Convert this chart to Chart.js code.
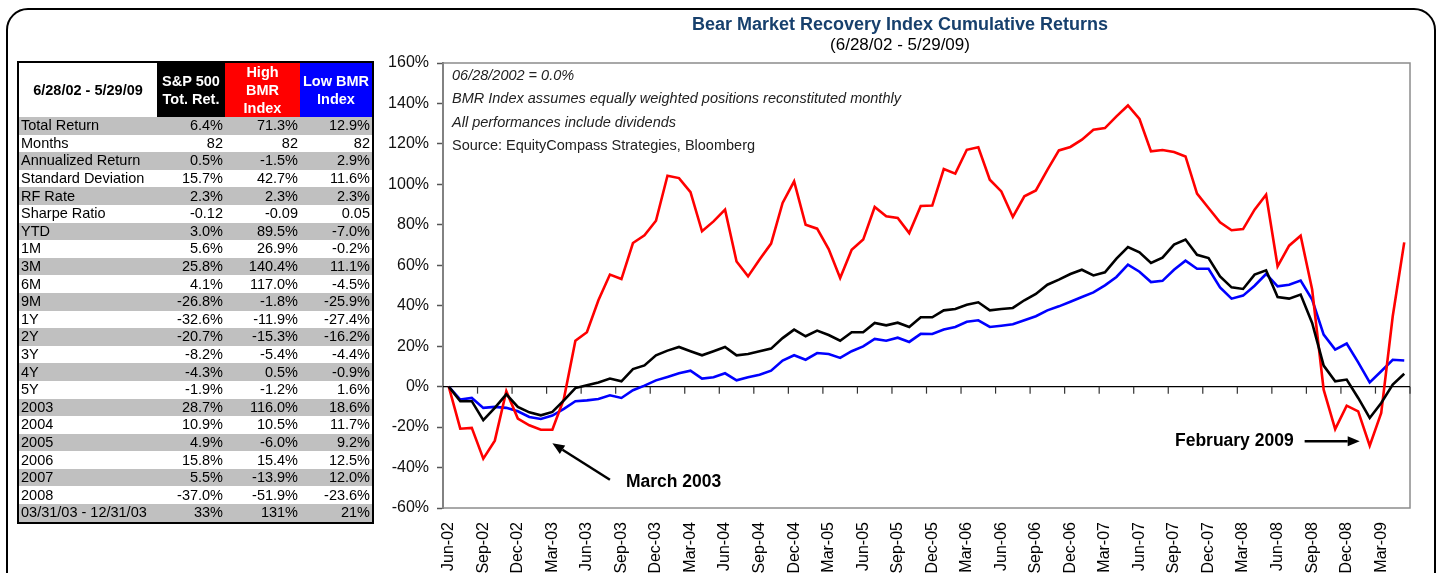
<!DOCTYPE html>
<html>
<head>
<meta charset="utf-8">
<script src="https://cdn.jsdelivr.net/npm/chart.js@4.4.1/dist/chart.umd.min.js"></script>
<style>
  html, body { margin: 0; padding: 0; background: #fff; }
  body { width: 1440px; height: 573px; position: relative; overflow: hidden; font-family: 'Liberation Sans', Arial, sans-serif; }
  #frame { position: absolute; left: 6px; top: 8px; width: 1426px; height: 620px; border: 2px solid #000; border-radius: 22px; }
  #chart { position: absolute; left: 0; top: 0; }
  .title { position: absolute; left: 380px; width: 1040px; text-align: center; }
  #t1 { top: 13px; font-size: 18px; font-weight: bold; color: #17406d; line-height: 22px; }
  #t2 { top: 35px; font-size: 17px; color: #000; line-height: 20px; }
  #stats { position: absolute; left: 17px; top: 61px; border-collapse: collapse; table-layout: fixed; border: 2px solid #000; font-size: 14.5px; }
  #stats td { padding: 0 2px; height: 17.6px; line-height: 17px; white-space: nowrap; text-align: right; }
  #stats td.lbl { text-align: left; }
  #stats tr.g td { background: #c0c0c0; }
  #stats th { height: 54px; font-size: 14.5px; font-weight: bold; line-height: 18px; padding: 0; text-align: center; }
</style>
</head>
<body>
<div id="frame"></div>
<canvas id="chart" width="1440" height="573"></canvas>
<div class="title" id="t1">Bear Market Recovery Index Cumulative Returns</div>
<div class="title" id="t2">(6/28/02 - 5/29/09)</div>
<table id="stats">
  <colgroup><col style="width:139px"><col style="width:68px"><col style="width:75px"><col style="width:73px"></colgroup>
  <thead>
    <tr>
      <th style="background:#fff;color:#000">6/28/02 - 5/29/09</th>
      <th style="background:#000;color:#fff">S&amp;P 500<br>Tot. Ret.</th>
      <th style="background:#ff0000;color:#fff">High<br>BMR<br>Index</th>
      <th style="background:#0000ff;color:#fff">Low BMR<br>Index</th>
    </tr>
  </thead>
  <tbody id="rows"></tbody>
</table>
<script>
// table figures
const statLabels = ['Total Return', 'Months', 'Annualized Return', 'Standard Deviation', 'RF Rate', 'Sharpe Ratio', 'YTD', '1M', '3M', '6M', '9M', '1Y', '2Y', '3Y', '4Y', '5Y', '2003', '2004', '2005', '2006', '2007', '2008', '03/31/03 - 12/31/03'];
const statSP500 = ['6.4%', '82', '0.5%', '15.7%', '2.3%', '-0.12', '3.0%', '5.6%', '25.8%', '4.1%', '-26.8%', '-32.6%', '-20.7%', '-8.2%', '-4.3%', '-1.9%', '28.7%', '10.9%', '4.9%', '15.8%', '5.5%', '-37.0%', '33%'];
const statHigh = ['71.3%', '82', '-1.5%', '42.7%', '2.3%', '-0.09', '89.5%', '26.9%', '140.4%', '117.0%', '-1.8%', '-11.9%', '-15.3%', '-5.4%', '0.5%', '-1.2%', '116.0%', '10.5%', '-6.0%', '15.4%', '-13.9%', '-51.9%', '131%'];
const statLow = ['12.9%', '82', '2.9%', '11.6%', '2.3%', '0.05', '-7.0%', '-0.2%', '11.1%', '-4.5%', '-25.9%', '-27.4%', '-16.2%', '-4.4%', '-0.9%', '1.6%', '18.6%', '11.7%', '9.2%', '12.5%', '12.0%', '-23.6%', '21%'];

// chart data, cumulative return in %
const months = ['Jun-02','Jul-02','Aug-02','Sep-02','Oct-02','Nov-02','Dec-02',
  'Jan-03','Feb-03','Mar-03','Apr-03','May-03','Jun-03','Jul-03','Aug-03','Sep-03','Oct-03','Nov-03','Dec-03',
  'Jan-04','Feb-04','Mar-04','Apr-04','May-04','Jun-04','Jul-04','Aug-04','Sep-04','Oct-04','Nov-04','Dec-04',
  'Jan-05','Feb-05','Mar-05','Apr-05','May-05','Jun-05','Jul-05','Aug-05','Sep-05','Oct-05','Nov-05','Dec-05',
  'Jan-06','Feb-06','Mar-06','Apr-06','May-06','Jun-06','Jul-06','Aug-06','Sep-06','Oct-06','Nov-06','Dec-06',
  'Jan-07','Feb-07','Mar-07','Apr-07','May-07','Jun-07','Jul-07','Aug-07','Sep-07','Oct-07','Nov-07','Dec-07',
  'Jan-08','Feb-08','Mar-08','Apr-08','May-08','Jun-08','Jul-08','Aug-08','Sep-08','Oct-08','Nov-08','Dec-08',
  'Jan-09','Feb-09','Mar-09','Apr-09','May-09'];
const sp500 = [0, -7.2, -7.2, -16.6, -10.5, -3.8, -10, -12.7, -14.2, -12.5,
  -6.8, -0.7, 0.7, 2.1, 4, 2.6, 8.7, 10.5, 15.5, 17.8,
  19.6, 17.5, 15.5, 17.5, 19.6, 15.5, 16.1, 17.5, 18.8, 24,
  28.2, 24.9, 27.7, 25.5, 22.7, 26.9, 26.9, 31.5, 30.3, 31.6,
  29.5, 34.3, 34.3, 37.7, 38.4, 40.5, 41.7, 37.7, 38.4, 38.9,
  42.7, 45.8, 50.4, 52.9, 55.7, 57.8, 55, 56.5, 63.3, 69,
  66.4, 61.1, 63.8, 70.2, 72.7, 65.2, 63.6, 54.5, 49.1, 48.3,
  55.4, 57.5, 44.3, 43.5, 45.5, 31.5, 10.4, 2.6, 3.5, -5.6,
  -15.5, -8.1, 1, 6.4];
const highBMR = [0, -20.8, -20.4, -35.6, -26.7, -2.3, -15.8, -19.1, -21.3, -21.3,
  -6, 22.7, 26.9, 42.7, 55.4, 53.2, 71, 74.8, 82, 104.3,
  103.1, 96.2, 76.8, 81.7, 87.5, 61.9, 54.5, 62.8, 70.7, 90.8,
  101.5, 80, 78.1, 68, 53.7, 67.7, 72.7, 88.8, 84.2, 83.4,
  75.9, 89.3, 89.5, 107.6, 105.3, 117.1, 118.3, 102.3, 96.5, 83.9,
  94.1, 97, 107.2, 116.8, 118.5, 122.1, 127, 127.8, 133.6, 139,
  132.3, 116.3, 117, 116, 113.8, 95.4, 88.3, 81.2, 77.3, 77.9,
  87.5, 94.9, 59.5, 69.7, 74.6, 48, -1.5, -21, -9.4, -12.2,
  -29.2, -13, 34.8, 71.3];
const lowBMR = [0, -6.4, -5.6, -10.5, -10, -10.5, -12.2, -15, -16, -14.3,
  -11, -7.2, -6.8, -6.1, -4.3, -5.6, -1.8, 0.5, 3.1, 4.8,
  6.6, 7.9, 4, 4.6, 6.6, 3.1, 4.6, 5.9, 7.9, 12.9,
  15.5, 13.3, 16.6, 16.1, 14.2, 17.5, 19.9, 23.6, 22.7, 24.2,
  22.1, 26.1, 26, 28.2, 29.5, 32.1, 32.8, 29.5, 30.1, 30.8,
  32.8, 34.8, 37.7, 39.7, 42, 44.3, 46.6, 50.1, 54.2, 60.3,
  56.8, 51.7, 52.3, 57.8, 62.3, 58.3, 58.3, 49.1, 43.5, 45,
  49.9, 55.7, 49.6, 50.4, 52.4, 43, 25.7, 18.3, 21.3, 12,
  2.1, 7.6, 13.3, 12.9];

const notes = ['06/28/2002 = 0.0%', 'BMR Index assumes equally weighted positions reconstituted monthly', 'All performances include dividends'];
const source = 'Source: EquityCompass Strategies, Bloomberg';

const FONT = "'Liberation Sans', Arial, sans-serif";

// fill the stats table
const tbody = document.getElementById('rows');
statLabels.forEach((lbl, i) => {
  const tr = document.createElement('tr');
  if (i % 2 === 0) tr.className = 'g';
  tr.innerHTML = '<td class="lbl">' + lbl + '</td><td>' + statSP500[i] + '</td><td>' + statHigh[i] + '</td><td>' + statLow[i] + '</td>';
  tbody.appendChild(tr);
});

function arrow(ctx, x1, y1, x2, y2) {
  const ang = Math.atan2(y2 - y1, x2 - x1);
  const len = 12, w = 5;
  ctx.beginPath();
  ctx.moveTo(x1, y1);
  ctx.lineTo(x2 - Math.cos(ang) * len, y2 - Math.sin(ang) * len);
  ctx.stroke();
  ctx.beginPath();
  ctx.moveTo(x2, y2);
  ctx.lineTo(x2 - Math.cos(ang) * len - Math.sin(ang) * w, y2 - Math.sin(ang) * len + Math.cos(ang) * w);
  ctx.lineTo(x2 - Math.cos(ang) * len + Math.sin(ang) * w, y2 - Math.sin(ang) * len - Math.cos(ang) * w);
  ctx.closePath();
  ctx.fill();
}

// frame, zero line with its tick marks
const axisPlugin = {
  id: 'axisPlugin',
  beforeDatasetsDraw(chart) {
    const {ctx, chartArea: a, scales: {x, y}} = chart;
    ctx.save();
    ctx.strokeStyle = '#8c8c8c';
    ctx.lineWidth = 1.5;
    ctx.strokeRect(a.left, a.top, a.right - a.left, a.bottom - a.top);

    const y0 = y.getPixelForValue(0);
    const half = (x.getPixelForValue(1) - x.getPixelForValue(0)) / 2;
    ctx.strokeStyle = '#000';
    ctx.lineWidth = 1.2;
    ctx.beginPath();
    ctx.moveTo(a.left, y0);
    ctx.lineTo(a.right, y0);
    ctx.stroke();
    ctx.strokeStyle = '#333';
    for (let i = 3; i <= months.length; i += 3) {
      const px = x.getPixelForValue(i - 1) + half;
      ctx.beginPath();
      ctx.moveTo(px, y0);
      ctx.lineTo(px, y0 + 7);
      ctx.stroke();
    }
    // notes
    ctx.fillStyle = '#222';
    ctx.textBaseline = 'middle';
    ctx.textAlign = 'left';
    ctx.font = 'italic 14.5px ' + FONT;
    notes.forEach((t, i) => ctx.fillText(t, a.left + 9, a.top + 13 + i * 23.3));
    ctx.font = '14.5px ' + FONT;
    ctx.fillText(source, a.left + 9, a.top + 13 + 3 * 23.3);
    ctx.restore();
  },
  afterDatasetsDraw(chart) {
    const {ctx, scales: {x, y}} = chart;
    ctx.save();
    ctx.strokeStyle = '#000';
    ctx.fillStyle = '#000';
    ctx.lineWidth = 2.5;
    ctx.font = 'bold 17.5px ' + FONT;
    ctx.textBaseline = 'middle';

    // March 2003
    const mx = x.getPixelForValue(14), my = y.getPixelForValue(-46);
    arrow(ctx, mx, my, x.getPixelForValue(9), y.getPixelForValue(-28));
    ctx.textAlign = 'left';
    ctx.fillText('March 2003', mx + 16, y.getPixelForValue(-47));

    // February 2009
    const fx = x.getPixelForValue(74), fy = y.getPixelForValue(-27);
    arrow(ctx, fx + 4, fy, x.getPixelForValue(80) - 10, fy);
    ctx.textAlign = 'right';
    ctx.fillText('February 2009', fx - 7, fy);
    ctx.restore();
  }
};

const ctx = document.getElementById('chart');
new Chart(ctx, {
  type: 'line',
  data: {
    labels: months,
    datasets: [
      { label: 'S&P 500 Tot. Ret.', data: sp500, borderColor: '#000000' },
      { label: 'High BMR Index', data: highBMR, borderColor: '#ff0000' },
      { label: 'Low BMR Index', data: lowBMR, borderColor: '#0000ff' }
    ]
  },
  options: {
    responsive: false,
    animation: false,
    layout: { padding: { left: 380, top: 63, right: 30, bottom: 0 } },
    elements: {
      line: { borderWidth: 2.6, tension: 0, fill: false },
      point: { radius: 0, hoverRadius: 0 }
    },
    plugins: {
      legend: { display: false },
      tooltip: { enabled: false }
    },
    scales: {
      x: {
        offset: true,
        border: { display: false },
        grid: { display: false, drawTicks: false, offset: true },
        ticks: {
          autoSkip: false,
          minRotation: 90,
          maxRotation: 90,
          padding: 14,
          color: '#000',
          font: { family: FONT, size: 16 },
          callback: function(val, i) { return i % 3 === 0 ? months[i] : null; }
        },
        afterFit: function(s) { s.height = 65; }
      },
      y: {
        min: -60,
        max: 160,
        border: { display: true, color: '#666', width: 2 },
        grid: { drawOnChartArea: false, drawTicks: true, tickLength: 6, tickColor: '#555', tickWidth: 1.5 },
        ticks: {
          stepSize: 20,
          padding: 8,
          color: '#111',
          font: { family: FONT, size: 16 },
          callback: function(v) { return v + '%'; }
        },
        afterFit: function(s) { s.width = 63; }
      }
    }
  },
  plugins: [axisPlugin]
});
</script>
</body>
</html>
